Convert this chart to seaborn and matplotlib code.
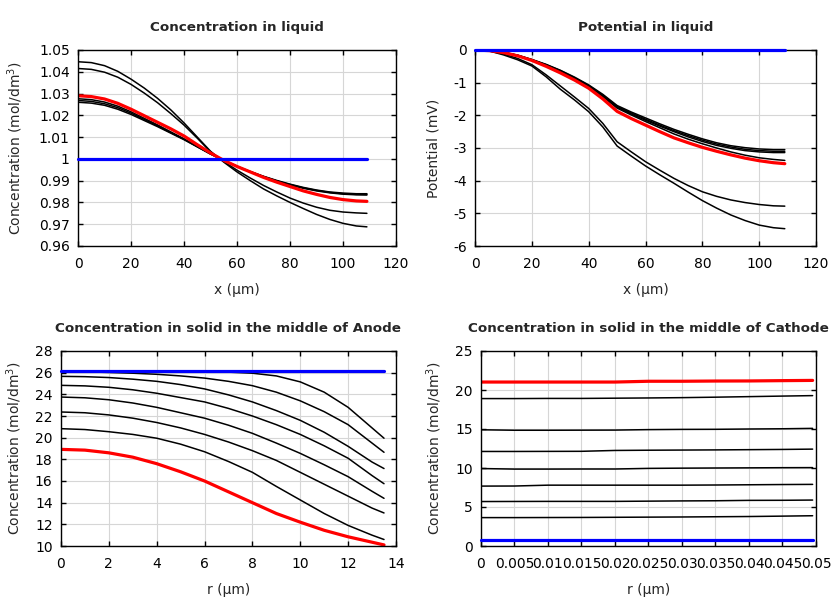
import matplotlib
matplotlib.use("Agg")
import matplotlib.pyplot as plt
import seaborn as sns
import numpy as np
from matplotlib.ticker import FuncFormatter, MultipleLocator

sns.set_theme(style="whitegrid")
plt.rcParams['font.family'] = ['DejaVu Sans']
plt.rcParams['axes.unicode_minus'] = False

# ---- Concentration in liquid (x in um) ----
x_liq = [0, 5, 10, 15, 20, 25, 30, 35, 40, 45, 50, 55, 60, 65, 70, 75, 80, 85, 90, 95, 100, 105, 109]
conc_liq_black = [
    [1.0446, 1.0442, 1.0428, 1.0402, 1.0366, 1.0325, 1.0278, 1.0225, 1.0165, 1.0100, 1.0035, 0.9985,
     0.9940, 0.9900, 0.9862, 0.9830, 0.9800, 0.9772, 0.9745, 0.9722, 0.9704, 0.9692, 0.9688],
    [1.0415, 1.0411, 1.0398, 1.0375, 1.0342, 1.0302, 1.0258, 1.0208, 1.0155, 1.0095, 1.0032, 0.9988,
     0.9948, 0.9912, 0.9878, 0.9848, 0.9820, 0.9797, 0.9778, 0.9764, 0.9756, 0.9752, 0.9750],
    [1.0260, 1.0256, 1.0246, 1.0228, 1.0204, 1.0176, 1.0148, 1.0118, 1.0088, 1.0055, 1.0022, 0.9993,
     0.9965, 0.9940, 0.9918, 0.9898, 0.9880, 0.9865, 0.9853, 0.9844, 0.9838, 0.9835, 0.9834],
    [1.0268, 1.0264, 1.0253, 1.0235, 1.0210, 1.0181, 1.0152, 1.0121, 1.0090, 1.0056, 1.0023, 0.9993,
     0.9965, 0.9941, 0.9919, 0.9899, 0.9882, 0.9867, 0.9855, 0.9846, 0.9840, 0.9837, 0.9837],
    [1.0276, 1.0272, 1.0261, 1.0242, 1.0216, 1.0186, 1.0156, 1.0124, 1.0092, 1.0057, 1.0023, 0.9994,
     0.9966, 0.9942, 0.9920, 0.9901, 0.9884, 0.9869, 0.9857, 0.9848, 0.9843, 0.9840, 0.9840],
]
conc_liq_red = [1.0290, 1.0286, 1.0275, 1.0255, 1.0228, 1.0198, 1.0168, 1.0138, 1.0105, 1.0065, 1.0027, 0.9993,
                0.9965, 0.9940, 0.9915, 0.9893, 0.9873, 0.9853, 0.9837, 0.9823, 0.9813, 0.9807, 0.9805]
conc_liq_blue = [1.0] * len(x_liq)

# ---- Potential in liquid (mV) ----
pot_black = [
    [0, -0.03, -0.12, -0.26, -0.45, -0.76, -1.10, -1.44, -1.79, -2.25, -2.81, -3.12,
     -3.42, -3.68, -3.93, -4.15, -4.34, -4.48, -4.59, -4.67, -4.73, -4.77, -4.78],
    [0, -0.03, -0.15, -0.30, -0.49, -0.82, -1.20, -1.53, -1.89, -2.36, -2.94, -3.25,
     -3.55, -3.82, -4.08, -4.35, -4.61, -4.84, -5.05, -5.22, -5.36, -5.44, -5.47],
    [0, -0.02, -0.07, -0.16, -0.29, -0.44, -0.62, -0.83, -1.07, -1.36, -1.70, -1.90,
     -2.08, -2.26, -2.43, -2.58, -2.72, -2.84, -2.93, -2.99, -3.03, -3.05, -3.05],
    [0, -0.02, -0.07, -0.16, -0.30, -0.45, -0.63, -0.85, -1.09, -1.39, -1.73, -1.93,
     -2.12, -2.30, -2.47, -2.62, -2.76, -2.88, -2.97, -3.04, -3.08, -3.10, -3.10],
    [0, -0.02, -0.08, -0.17, -0.30, -0.46, -0.64, -0.86, -1.11, -1.41, -1.75, -1.96,
     -2.15, -2.33, -2.50, -2.66, -2.80, -2.92, -3.01, -3.08, -3.12, -3.14, -3.14],
    [0, -0.02, -0.08, -0.17, -0.31, -0.47, -0.66, -0.88, -1.13, -1.43, -1.78, -1.99,
     -2.19, -2.38, -2.57, -2.73, -2.87, -3.00, -3.12, -3.22, -3.30, -3.35, -3.38],
]
pot_red = [0, -0.02, -0.08, -0.18, -0.32, -0.50, -0.70, -0.92, -1.17, -1.50, -1.88, -2.10,
           -2.30, -2.50, -2.69, -2.84, -2.98, -3.10, -3.21, -3.31, -3.39, -3.45, -3.48]
pot_blue = [0.0] * len(x_liq)

# ---- Solid, anode (r in um) ----
r_an = [0, 1, 2, 3, 4, 5, 6, 7, 8, 9, 10, 11, 12, 13, 13.5]
anode_black = [
    [26.12, 26.12, 26.12, 26.12, 26.11, 26.10, 26.08, 26.05, 25.95, 25.70, 25.15, 24.20, 22.80, 20.90, 19.95],
    [26.10, 26.08, 26.02, 25.95, 25.85, 25.70, 25.50, 25.20, 24.80, 24.20, 23.40, 22.40, 21.20, 19.50, 18.65],
    [25.66, 25.63, 25.55, 25.40, 25.20, 24.90, 24.50, 23.95, 23.30, 22.50, 21.60, 20.50, 19.20, 17.75, 17.15],
    [24.83, 24.78, 24.65, 24.42, 24.10, 23.70, 23.30, 22.70, 22.00, 21.20, 20.30, 19.25, 18.10, 16.50, 15.75],
    [23.75, 23.68, 23.50, 23.20, 22.80, 22.30, 21.80, 21.15, 20.40, 19.50, 18.55, 17.50, 16.40, 15.05, 14.40],
    [22.37, 22.30, 22.10, 21.80, 21.40, 20.90, 20.30, 19.60, 18.80, 17.90, 16.80, 15.70, 14.60, 13.50, 13.05],
    [20.83, 20.75, 20.55, 20.30, 19.95, 19.40, 18.70, 17.80, 16.80, 15.50, 14.25, 13.00, 11.90, 11.00, 10.60],
]
anode_red = [18.92, 18.85, 18.60, 18.20, 17.60, 16.85, 16.00, 15.00, 14.00, 13.00, 12.20, 11.45, 10.85, 10.35, 10.10]
anode_blue = [26.15] * len(r_an)

# ---- Solid, cathode (r in um) ----
r_ca = [0, 0.005, 0.01, 0.015, 0.02, 0.025, 0.03, 0.035, 0.04, 0.045, 0.0495]
cathode_black = [
    [18.90, 18.90, 18.92, 18.92, 18.95, 18.98, 19.02, 19.08, 19.15, 19.22, 19.28],
    [14.90, 14.84, 14.84, 14.85, 14.86, 14.92, 14.95, 14.96, 15.00, 15.03, 15.08],
    [12.12, 12.12, 12.13, 12.14, 12.25, 12.28, 12.30, 12.32, 12.35, 12.38, 12.42],
    [9.93, 9.86, 9.86, 9.87, 9.87, 9.95, 9.98, 10.00, 10.02, 10.04, 10.05],
    [7.68, 7.69, 7.80, 7.80, 7.80, 7.80, 7.80, 7.82, 7.85, 7.88, 7.90],
    [5.70, 5.71, 5.72, 5.72, 5.72, 5.75, 5.78, 5.80, 5.85, 5.86, 5.89],
    [3.64, 3.64, 3.65, 3.66, 3.68, 3.70, 3.72, 3.75, 3.78, 3.83, 3.88],
]
cathode_red = [21.02, 21.02, 21.02, 21.02, 21.02, 21.12, 21.12, 21.15, 21.16, 21.2, 21.23]
cathode_blue = [0.75] * len(r_ca)


def fmt_g(v, pos):
    return "%g" % round(v, 6)


def draw_panel(ax, x, blacks, red, blue):
    for y in blacks:
        sns.lineplot(x=x, y=y, ax=ax, color="black", linewidth=1.1, estimator=None, sort=False)
    sns.lineplot(x=x, y=red, ax=ax, color="red", linewidth=2.3, estimator=None, sort=False)
    sns.lineplot(x=x, y=blue, ax=ax, color="blue", linewidth=2.3, estimator=None, sort=False,
                 zorder=5, clip_on=False)


def style_axes(ax, title, xlabel, ylabel, xlim, ylim, xstep, ystep, ylab_x):
    ax.set_xlim(*xlim)
    ax.set_ylim(*ylim)
    ax.xaxis.set_major_locator(MultipleLocator(xstep))
    ax.yaxis.set_major_locator(MultipleLocator(ystep))
    ax.xaxis.set_major_formatter(FuncFormatter(fmt_g))
    ax.yaxis.set_major_formatter(FuncFormatter(fmt_g))
    ax.grid(True, color="#d6d6d6", linewidth=0.8)
    for s in ax.spines.values():
        s.set_color("black")
        s.set_linewidth(1.0)
    ax.tick_params(axis="both", direction="in", length=3.5, width=1, color="black",
                   top=True, right=True, bottom=True, left=True, labelsize=10, labelcolor="black")
    ax.tick_params(axis="x", pad=8)
    ax.tick_params(axis="y", pad=6)
    ax.set_title(title, fontsize=9.7, fontweight="bold", pad=14)
    ax.set_xlabel(xlabel, fontsize=10)
    ax.set_ylabel(ylabel, fontsize=10)
    ax.xaxis.set_label_coords(0.5, -0.19)
    ax.yaxis.set_label_coords(ylab_x, 0.5)


fig = plt.figure(figsize=(8.4, 6.0), dpi=100)
fig.patch.set_facecolor("white")
ax1 = fig.add_axes([0.0929, 0.59, 0.3786, 0.3267])
ax2 = fig.add_axes([0.5655, 0.59, 0.4060, 0.3267])
ax3 = fig.add_axes([0.0726, 0.09, 0.3988, 0.3250])
ax4 = fig.add_axes([0.5726, 0.09, 0.3988, 0.3250])

draw_panel(ax1, x_liq, conc_liq_black, conc_liq_red, conc_liq_blue)
style_axes(ax1, "Concentration in liquid", "x (µm)", "Concentration (mol/dm$^3$)",
           (0, 120), (0.96, 1.05), 20, 0.01, -0.166)

draw_panel(ax2, x_liq, pot_black, pot_red, pot_blue)
style_axes(ax2, "Potential in liquid", "x (µm)", "Potential (mV)",
           (0, 120), (-6, 0), 20, 1, -0.10)

draw_panel(ax3, r_an, anode_black, anode_red, anode_blue)
style_axes(ax3, "Concentration in solid in the middle of Anode", "r (µm)", "Concentration (mol/dm$^3$)",
           (0, 14), (10, 28), 2, 2, -0.11)

draw_panel(ax4, r_ca, cathode_black, cathode_red, cathode_blue)
style_axes(ax4, "Concentration in solid in the middle of Cathode", "r (µm)", "Concentration (mol/dm$^3$)",
           (0, 0.05), (0, 25), 0.005, 5, -0.11)

fig.savefig("out.png", dpi=100, facecolor="white")
